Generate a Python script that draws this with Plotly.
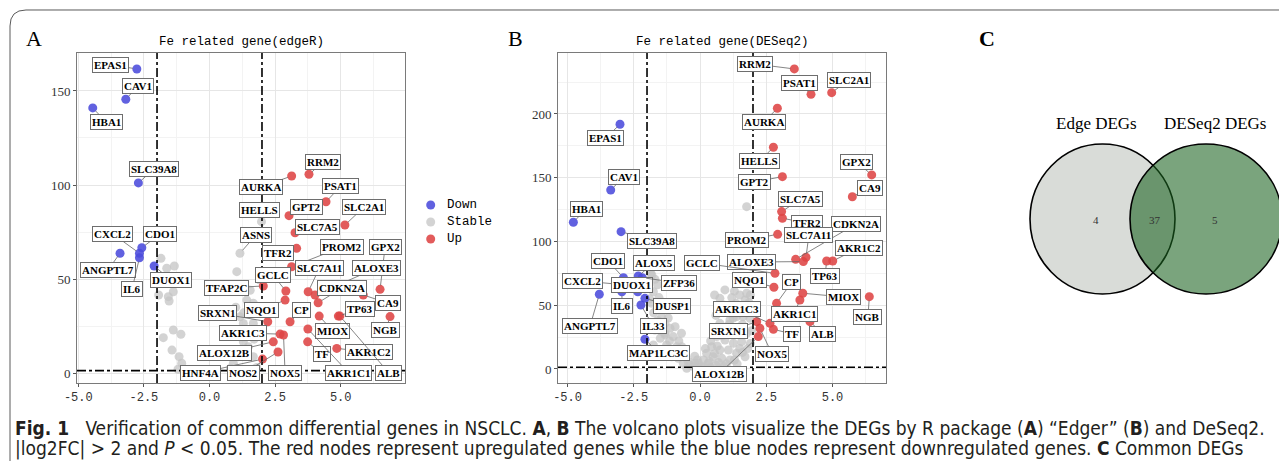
import plotly.graph_objects as go

# page body has an 8px margin in the browser, so the figure is laid out in
# reference-pixel coordinates shifted by OFF
OFF = 8
W, H = 1287 - OFF, 461 - OFF

# ---------------- Panel A : edgeR ----------------
edger_genes = ["EPAS1", "CAV1", "HBA1", "SLC39A8", "CXCL2", "CDO1", "ANGPTL7", "IL6", "DUOX1",
               "HELLS", "ASNS",
               "RRM2", "AURKA", "PSAT1", "GPT2", "SLC2A1", "SLC7A5", "TFR2", "PROM2", "GPX2",
               "SLC7A11", "ALOXE3", "GCLC", "TFAP2C", "CDKN2A", "CA9", "TP63", "NQO1", "SRXN1",
               "CP", "MIOX", "NGB", "AKR1C3", "NOX5", "ALOX12B", "TF", "AKR1C2", "AKR1C1", "ALB",
               "HNF4A", "NOS2"]
edger_logfc = [-2.77, -3.19, -4.45, -2.71, -2.67, -2.58, -3.41, -2.67, -2.11,
               1.98, 1.16,
               3.79, 3.13, 4.44, 3.03, 5.16, 3.26, 3.32, 3.13, 6.50,
               3.76, 4.02, 2.91, 2.05, 4.14, 5.86, 4.91, 2.88, 2.22,
               3.07, 4.18, 6.88, 2.69, 2.82, 2.43, 3.74, 4.85, 3.75, 4.97,
               2.02, 2.61]
edger_logp = [161.7, 145.6, 141.0, 101.1, 63.7, 66.6, 63.7, 61.3, 56.9,
              80.5, 63.7,
              105.7, 104.8, 91.1, 83.7, 78.7, 74.6, 66.3, 56.5, 44.5,
              43.2, 41.5, 43.6, 46.3, 37.4, 41.5, 30.3, 38.8, 27.3,
              27.3, 30.3, 30.0, 20.7, 20.2, 16.6, 16.6, 13.1, 23.4, 30.3,
              7.4, 11.2]
edger_status = ["Down"] * 9 + ["Stable"] * 2 + ["Up"] * 30

edger_bg_logfc = [-1.85, -1.63, -1.34, -1.38, -1.94, -1.57, -1.54, -1.76, -1.38, -1.09, -1.43,
                  -1.16, -1.06, 1.04, 1.92, 1.42, 1.67, 1.86, 1.16, 1.29, 1.67, 1.29, 1.48, 1.10,
                  0.91, 1.67, 1.00, 1.30, 1.50, 1.70, 1.20, 0.80, -1.20, 1.80, 1.55, 1.35]
edger_bg_logp = [61.0, 55.7, 56.9, 43.2, 41.5, 40.6, 38.3, 18.8, 22.9, 20.6, 12.2,
                 8.7, 5.2, 53.9, 49.5, 38.8, 37.1, 34.4, 29.9, 26.4, 26.4, 16.6, 14.0, 8.7,
                 5.2, 8.7, 35.0, 32.0, 20.5, 18.0, 11.0, 2.5, 2.0, 3.0, 44.0, 46.0]

# ---------------- Panel B : DESeq2 ----------------
deseq_genes = ["EPAS1", "CAV1", "HBA1", "SLC39A8", "CDO1", "CXCL2", "ANGPTL7", "IL6", "DUOX1",
               "ALOX5", "ZFP36", "DUSP1", "IL33", "MAP1LC3C",
               "RRM2", "PSAT1", "SLC2A1", "AURKA", "HELLS", "GPX2", "GPT2", "CA9", "SLC7A5",
               "TFR2", "PROM2", "CDKN2A", "ALOXE3", "SLC7A11", "TP63", "AKR1C2", "GCLC", "NQO1",
               "CP", "MIOX", "AKR1C1", "NGB", "ALB", "TF", "AKR1C3", "SRXN1", "NOX5", "ALOX12B"]
deseq_logfc = [-3.02, -3.37, -4.78, -2.98, -2.89, -2.85, -3.80, -2.95, -2.35,
               -2.33, -2.18, -2.08, -2.23, -2.08,
               3.56, 4.19, 4.97, 2.92, 2.77, 6.48, 3.11, 5.75, 3.08,
               3.11, 2.93, 3.61, 3.90, 4.00, 4.78, 5.01, 2.83, 2.79,
               2.89, 3.88, 3.77, 6.39, 4.15, 2.77, 2.64, 2.14, 2.26, 2.20]
deseq_logp = [191.9, 140.4, 115.1, 107.7, 71.6, 66.0, 58.6, 60.6, 60.6,
              72.9, 71.6, 55.4, 50.2, 23.3,
              235.3, 215.4, 216.7, 204.5, 173.9, 152.2, 150.8, 135.1, 123.4,
              118.2, 105.6, 86.0, 84.2, 87.6, 84.7, 84.7, 75.0, 64.1,
              51.5, 59.4, 54.1, 56.7, 37.1, 31.1, 35.8, 37.1, 31.9, 25.4]
deseq_status = ["Down"] * 14 + ["Up"] * 28

deseq_bg_logfc = [-1.86, -1.70, -1.76, -1.82, -1.63, -1.45, -1.32, -1.38, -1.13, -0.94, -1.32,
                  -1.01, -1.76, -1.26, -0.88, -1.38, -1.07, -0.82, -0.63, -0.38, -0.50,
                  0.94, 0.75, 0.88, 1.07, 1.36, 1.70, 1.76, 1.38, 1.63, 1.89, 1.13, 0.75, 0.88,
                  1.20, 1.45, 1.76, 0.63, 0.94, 1.26, 1.57, 0.44, 0.75, 1.07, 1.38, 1.70, 0.25,
                  0.50, 0.82, 1.13, 0.13, -0.06, 0.31, -0.25, 0.12, 1.76, -1.82, -1.60, -1.70,
                  -1.32, -0.69, -0.19, 1.50, 1.20, 0.60, 1.00, 1.60, 0.40, 1.80, 1.50, 0.20,
                  -0.20, -0.60, -0.10, 0.60, 0.90, 1.40, -0.80, -1.50, -0.70, 1.30, 0.55,
                  0.35, 0.55, 0.65, 0.85, 1.00, 1.10, 1.25, 1.45, 1.60, 1.85, 1.90, 1.50, 1.20,
                  0.05, 0.40, -0.10, 0.70, 1.00, 1.30, 1.60, 1.90, 1.95, 1.85,
                  -0.45, -0.70, -0.95, -1.15, -1.50, -1.60, -1.75, -1.90, -1.95, -1.55, -1.20]
deseq_bg_logp = [75.0, 70.3, 60.6, 51.5, 46.3, 41.0, 35.8, 33.2, 31.9, 33.2, 28.0,
                 25.4, 18.8, 18.8, 17.5, 12.3, 9.6, 8.4, 4.5, 3.1, 0.5,
                 62.0, 55.4, 50.2, 48.9, 51.5, 54.1, 59.4, 41.0, 41.0, 39.8, 38.4, 35.8, 30.6,
                 28.0, 30.6, 28.0, 25.4, 22.7, 20.2, 21.4, 17.5, 14.9, 14.9, 12.3, 9.6, 12.3,
                 9.6, 8.4, 7.1, 7.1, 4.5, 4.5, 1.8, 1.8, 127.3, 73.7, 66.0, 30.6,
                 26.7, 17.5, 4.5, 45.0, 44.0, 42.0, 33.0, 35.0, 22.0, 16.0, 16.0, 16.0,
                 10.0, 13.0, 7.0, 3.0, 2.0, 4.0, 22.0, 24.0, 28.0, 61.0, 58.0,
                 6.0, 12.0, 18.0, 26.0, 30.0, 35.0, 40.0, 45.0, 48.0, 52.0, 58.0, 58.0, 56.0,
                 1.0, 1.0, 0.5, 5.0, 4.0, 7.0, 13.0, 20.0, 30.0, 45.0,
                 6.0, 10.0, 14.0, 22.0, 30.0, 38.0, 44.0, 55.0, 66.0, 56.0, 40.0]

# ---------------- Venn (panel C) ----------------
venn_sets = ["Edge DEGs", "DESeq2 DEGs"]
venn_counts = [4, 37, 5]   # only edgeR, common, only DESeq2

# tick labels
x_ticks = [-5.0, -2.5, 0.0, 2.5, 5.0]
x_ticktext = ["-5.0", "-2.5", "0.0", "2.5", "5.0"]
x_minor = [-3.75, -1.25, 1.25, 3.75, 6.25]
yA_ticks = [0, 50, 100, 150]
yA_minor = [25, 75, 125]
yB_ticks = [0, 50, 100, 150, 200]
yB_minor = [25, 75, 125, 175, 225]

legend_names = ["Down", "Stable", "Up"]

# ---------------- label placement (layout, data coords) ----------------
edger_label_pos = {
    "EPAS1": (-3.79, 164.0), "CAV1": (-2.72, 152.7), "HBA1": (-3.94, 133.5),
    "SLC39A8": (-2.11, 108.5), "CXCL2": (-3.68, 73.9), "CDO1": (-1.89, 73.9),
    "ANGPTL7": (-3.87, 54.8), "IL6": (-2.95, 44.7), "DUOX1": (-1.47, 49.5),
    "HELLS": (1.92, 86.7), "ASNS": (1.77, 73.4), "RRM2": (4.34, 112.0),
    "AURKA": (1.96, 98.9), "PSAT1": (5.01, 99.5), "GPT2": (3.68, 88.3),
    "SLC2A1": (5.89, 88.3), "SLC7A5": (4.10, 77.7), "TFR2": (2.61, 63.8),
    "PROM2": (5.05, 67.0), "GPX2": (6.69, 67.0), "SLC7A11": (4.19, 55.9),
    "ALOXE3": (6.38, 55.9), "GCLC": (2.42, 52.1), "TFAP2C": (0.63, 45.2),
    "CDKN2A": (5.05, 45.2), "CA9": (6.80, 37.2), "TP63": (5.73, 34.0),
    "NQO1": (2.00, 33.5), "SRXN1": (0.32, 31.9), "CP": (3.52, 33.5),
    "MIOX": (4.70, 22.3), "NGB": (6.72, 22.9), "AKR1C3": (1.28, 21.3),
    "NOX5": (2.88, 0.0), "ALOX12B": (0.59, 10.6), "TF": (4.29, 10.1),
    "AKR1C2": (6.08, 11.2), "AKR1C1": (5.31, 0.0), "ALB": (6.84, 0.0),
    "HNF4A": (-0.36, 0.0), "NOS2": (1.31, 0.0),
}
deseq_label_pos = {
    "RRM2": (2.06, 239.2), "PSAT1": (3.74, 224.3), "SLC2A1": (5.62, 226.7),
    "AURKA": (2.42, 193.7), "EPAS1": (-3.55, 181.2), "HELLS": (2.26, 163.1),
    "GPX2": (5.92, 162.4), "CAV1": (-2.87, 150.6), "GPT2": (2.04, 146.7),
    "CA9": (6.42, 142.0), "SLC7A5": (3.81, 133.3), "HBA1": (-4.30, 125.5),
    "TFR2": (4.04, 114.5), "CDKN2A": (5.89, 113.7), "SLC39A8": (-1.81, 100.4),
    "PROM2": (1.77, 101.2), "SLC7A11": (4.11, 105.1), "AKR1C2": (6.00, 94.9),
    "CDO1": (-3.47, 84.7), "ALOX5": (-1.74, 83.1), "GCLC": (0.08, 83.1),
    "ALOXE3": (1.96, 83.9), "CXCL2": (-4.42, 69.0), "DUOX1": (-2.57, 65.9),
    "ZFP36": (-0.79, 67.5), "NQO1": (1.85, 69.8), "CP": (3.47, 68.2),
    "TP63": (4.72, 72.9), "MIOX": (5.40, 56.5), "NGB": (6.34, 40.8),
    "IL6": (-2.94, 49.4), "DUSP1": (-1.06, 49.4), "ANGPTL7": (-4.15, 33.7),
    "IL33": (-1.77, 33.7), "AKR1C3": (1.40, 47.1), "AKR1C1": (3.55, 43.1),
    "SRXN1": (1.09, 29.8), "TF": (3.47, 27.5), "ALB": (4.64, 27.5),
    "NOX5": (2.72, 11.8), "MAP1LC3C": (-1.55, 12.5), "ALOX12B": (0.72, -3.9),
}

COLORS = {"Down": "#4b4bdc", "Stable": "#c4c4c4", "Up": "#de4444"}
OPAC = {"Down": 0.88, "Stable": 0.75, "Up": 0.88}


def px_x(v):
    return (v - OFF) / W


def px_y(v):
    return 1 - (v - OFF) / H


fig = go.Figure()


def add_panel(genes, fc, lp, status, bg_fc, bg_lp, xa, ya):
    for st in ["Stable", "Down", "Up"]:
        xs = [f for f, s in zip(fc, status) if s == st]
        ys = [p for p, s in zip(lp, status) if s == st]
        names = [g for g, s in zip(genes, status) if s == st]
        if st == "Stable":
            xs = list(bg_fc) + xs
            ys = list(bg_lp) + ys
            names = [""] * len(bg_fc) + names
        fig.add_trace(go.Scatter(
            x=xs, y=ys, mode="markers", name=st, text=names,
            marker=dict(size=9, color=COLORS[st], opacity=OPAC[st], line=dict(width=0)),
            xaxis=xa, yaxis=ya, showlegend=False,
        ))


add_panel(edger_genes, edger_logfc, edger_logp, edger_status,
          edger_bg_logfc, edger_bg_logp, "x", "y")
add_panel(deseq_genes, deseq_logfc, deseq_logp, deseq_status,
          deseq_bg_logfc, deseq_bg_logp, "x2", "y2")

annotations = []


def add_labels(genes, fc, lp, pos, xr, yr):
    for g, f, p in zip(genes, fc, lp):
        lx, ly = pos[g]
        annotations.append(dict(
            x=f, y=p, xref=xr, yref=yr, ax=lx, ay=ly, axref=xr, ayref=yr,
            text="<b>%s</b>" % g, showarrow=True, arrowhead=0, arrowwidth=0.8,
            arrowcolor="#666666", standoff=4, startstandoff=0,
            font=dict(family="Liberation Serif", size=11, color="black"),
            bgcolor="white", bordercolor="#6e6e6e", borderwidth=1, borderpad=1,
        ))


add_labels(edger_genes, edger_logfc, edger_logp, edger_label_pos, "x", "y")
add_labels(deseq_genes, deseq_logfc, deseq_logp, deseq_label_pos, "x2", "y2")

# titles
for txt, cx in [("Fe related gene(edgeR)", 241), ("Fe related gene(DESeq2)", 722)]:
    annotations.append(dict(x=px_x(cx), y=px_y(42), xref="paper", yref="paper", text=txt,
                            showarrow=False, xanchor="center", yanchor="middle",
                            font=dict(family="Liberation Mono", size=12.5, color="black")))
# panel letters
for txt, cx, bold in [("A", 34, False), ("B", 515, False), ("C", 987, True)]:
    annotations.append(dict(x=px_x(cx), y=px_y(38), xref="paper", yref="paper",
                            text=("<b>%s</b>" % txt) if bold else txt, showarrow=False,
                            xanchor="center", yanchor="middle",
                            font=dict(family="Liberation Serif", size=22, color="black")))
# legend (drawn manually to match ggplot key spacing)
shapes = []
for name, cy in zip(legend_names, [205, 222, 239]):
    shapes.append(dict(type="circle", xref="paper", yref="paper",
                       x0=px_x(426.2), x1=px_x(435.2), y0=px_y(cy + 4.5), y1=px_y(cy - 4.5),
                       fillcolor=COLORS[name], opacity=OPAC[name], line=dict(width=0)))
    annotations.append(dict(x=px_x(445), y=px_y(cy), xref="paper", yref="paper", text=name,
                            showarrow=False, xanchor="left", yanchor="middle",
                            font=dict(family="Liberation Mono", size=12.5, color="black")))
# venn texts
for txt, cx in [(venn_sets[0], 1096), (venn_sets[1], 1215)]:
    annotations.append(dict(x=px_x(cx), y=px_y(124), xref="paper", yref="paper", text=txt,
                            showarrow=False, xanchor="center", yanchor="middle",
                            font=dict(family="Liberation Serif", size=17, color="black")))
for val, cx in zip(venn_counts, [1096, 1155, 1215]):
    annotations.append(dict(x=px_x(cx), y=px_y(220), xref="paper", yref="paper", text=str(val),
                            showarrow=False, xanchor="center", yanchor="middle",
                            font=dict(family="Liberation Serif", size=11, color="#333333")))
# caption
cap_font = dict(family="Liberation Sans Narrow, DejaVu Sans Condensed, Roboto Condensed, Roboto",
                size=19, color="#231f20")
annotations.append(dict(
    x=px_x(14), y=px_y(428), xref="paper", yref="paper", showarrow=False,
    xanchor="left", yanchor="middle", font=cap_font, borderpad=0,
    text="<b>Fig. 1</b>   Verification of common differential genes in NSCLC. <b>A</b>, <b>B</b> "
         "The volcano plots visualize the DEGs by R package (<b>A</b>) \u201cEdger\u201d (<b>B</b>) and DeSeq2."))
annotations.append(dict(
    x=px_x(14), y=px_y(448), xref="paper", yref="paper", showarrow=False,
    xanchor="left", yanchor="middle", font=cap_font, borderpad=0,
    text="|log2FC| > 2 and <i>P</i> < 0.05. The red nodes represent upregulated genes while the "
         "blue nodes represent downregulated genes. <b>C</b> Common DEGs"))

thr_fc = 2.0
thr_p = 1.301
for xa, ya in [("x", "y"), ("x2", "y2")]:
    for v in (-thr_fc, thr_fc):
        shapes.append(dict(type="line", xref=xa, yref=ya + " domain", x0=v, x1=v, y0=0, y1=1,
                           line=dict(color="black", width=1.6, dash="dashdot"), layer="above"))
    shapes.append(dict(type="line", xref=xa + " domain", yref=ya, x0=0, x1=1, y0=thr_p, y1=thr_p,
                       line=dict(color="black", width=1.6, dash="dashdot"), layer="above"))

# venn circles
shapes.append(dict(type="circle", xref="paper", yref="paper",
                   x0=px_x(1030), x1=px_x(1175), y0=px_y(294), y1=px_y(144),
                   fillcolor="#d9dcd8", line=dict(color="black", width=1.6)))
shapes.append(dict(type="circle", xref="paper", yref="paper",
                   x0=px_x(1130), x1=px_x(1282), y0=px_y(294), y1=px_y(144),
                   fillcolor="rgba(26,98,31,0.58)", line=dict(color="black", width=1.6)))
# frame
shapes.append(dict(type="path", xref="paper", yref="paper",
                   path="M %f %f L %f %f Q %f %f %f %f L %f %f" % (
                       px_x(10), px_y(470), px_x(10), px_y(26), px_x(10), px_y(10),
                       px_x(26), px_y(10), px_x(1300), px_y(10)),
                   line=dict(color="#5a5a5a", width=1)))

grid_major = "#e6e6e6"
grid_minor = "#f3f3f3"


def xaxis_cfg(dom, rng, anchor):
    return dict(domain=dom, range=rng, anchor=anchor, tickmode="array", tickvals=x_ticks,
                ticktext=x_ticktext, showgrid=True, gridcolor=grid_major, gridwidth=1,
                minor=dict(tickvals=x_minor, showgrid=True, gridcolor=grid_minor, gridwidth=0.7),
                zeroline=False, showline=True, mirror=True, linecolor="#7a7a7a", linewidth=1,
                ticks="outside", ticklen=3, tickcolor="#555555", automargin=False,
                tickfont=dict(family="Liberation Mono", size=12, color="#333333"))


def yaxis_cfg(dom, rng, anchor, tv, mv):
    return dict(domain=dom, range=rng, anchor=anchor, tickmode="array", tickvals=tv,
                ticktext=[str(v) for v in tv], showgrid=True, gridcolor=grid_major, gridwidth=1,
                minor=dict(tickvals=mv, showgrid=True, gridcolor=grid_minor, gridwidth=0.7),
                zeroline=False, showline=True, mirror=True, linecolor="#7a7a7a", linewidth=1,
                ticks="outside", ticklen=3, tickcolor="#555555", automargin=False,
                tickfont=dict(family="Liberation Serif", size=13, color="#333333"))


ydom = [px_y(383), px_y(53)]
fig.update_layout(
    width=W, height=H, margin=dict(l=0, r=0, t=0, b=0, autoexpand=False),
    paper_bgcolor="white", plot_bgcolor="white",
    xaxis=xaxis_cfg([px_x(77), px_x(405)], [-5.05, 7.45], "y"),
    yaxis=yaxis_cfg(ydom, [-5.3, 170.2], "x", yA_ticks, yA_minor),
    xaxis2=xaxis_cfg([px_x(558), px_x(886)], [-5.36, 7.02], "y2"),
    yaxis2=yaxis_cfg(ydom, [-11.0, 247.8], "x2", yB_ticks, yB_minor),
    showlegend=False,
    annotations=annotations, shapes=shapes,
)

fig.write_html("out.html")
